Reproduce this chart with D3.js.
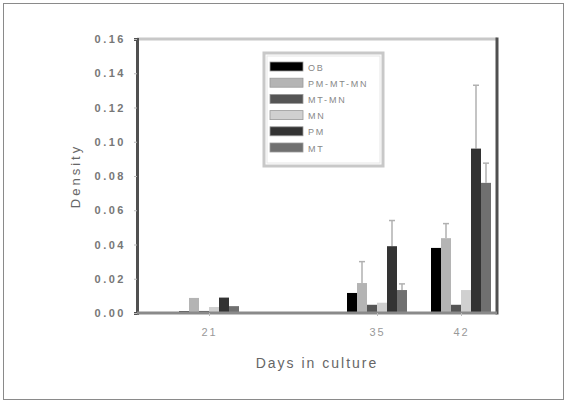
<!DOCTYPE html>
<meta charset="utf-8">
<script src="https://d3js.org/d3.v7.min.js"></script>
<style>
  body { margin: 0; background: #fff; }
  text { font-family: "Liberation Sans", Arial, sans-serif; }
</style>
<div id="chart"></div>
<script>
// data
var days = [21, 35, 42];
var seriesNames = ["OB", "PM-MT-MN", "MT-MN", "MN", "PM", "MT"];
var seriesColors = ["#000000", "#b4b4b4", "#555555", "#d0d0d0", "#333333", "#707070"];
var valOB      = [0.001, 0.0117, 0.038];
var valPMMTMN  = [0.0088, 0.0175, 0.0437];
var valMTMN    = [0.0012, 0.0048, 0.0048];
var valMN      = [0.0035, 0.006, 0.0134];
var valPM      = [0.009, 0.039, 0.096];
var valMT      = [0.004, 0.0134, 0.076];
var errOB      = [0, 0, 0];
var errPMMTMN  = [0, 0.0125, 0.0085];
var errMTMN    = [0, 0, 0];
var errMN      = [0, 0, 0];
var errPM      = [0, 0.015, 0.037];
var errMT      = [0, 0.0036, 0.0115];
var yTicks = [0, 0.02, 0.04, 0.06, 0.08, 0.10, 0.12, 0.14, 0.16];

var values = [valOB, valPMMTMN, valMTMN, valMN, valPM, valMT];
var errors = [errOB, errPMMTMN, errMTMN, errMN, errPM, errMT];

var W = 567, H = 403;
var svg = d3.select("#chart").append("svg")
    .attr("width", W).attr("height", H);

// outer frame
svg.append("rect")
    .attr("x", 3.5).attr("y", 3.5)
    .attr("width", W - 7).attr("height", H - 7)
    .attr("fill", "none").attr("stroke", "#8a8a8a").attr("stroke-width", 1);

var plotLeft = 137, plotRight = 497, plotTop = 39, plotBottom = 313;

var x = d3.scaleLinear().domain([15, 45]).range([plotLeft, plotRight]);
var y = d3.scaleLinear().domain([0, 0.16]).range([plotBottom, plotTop]);
var barW = 10;

// build flat list of bars
var bars = [];
seriesNames.forEach(function(name, s) {
  days.forEach(function(day, i) {
    bars.push({ s: s, day: day, v: values[s][i], e: errors[s][i] });
  });
});
function barX(d) { return x(d.day) - 3 * barW + d.s * barW; }

// error bars (only upward)
var eb = svg.append("g").selectAll("g")
  .data(bars.filter(function(d) { return d.e > 0; }))
  .enter().append("g");
eb.append("line")
    .attr("x1", function(d) { return barX(d) + barW / 2; })
    .attr("x2", function(d) { return barX(d) + barW / 2; })
    .attr("y1", function(d) { return y(d.v); })
    .attr("y2", function(d) { return y(d.v + d.e); })
    .attr("stroke", "#c4c4c4").attr("stroke-width", 2);
eb.append("line")
    .attr("x1", function(d) { return barX(d) + barW / 2 - 3; })
    .attr("x2", function(d) { return barX(d) + barW / 2 + 3; })
    .attr("y1", function(d) { return y(d.v + d.e); })
    .attr("y2", function(d) { return y(d.v + d.e); })
    .attr("stroke", "#b0b0b0").attr("stroke-width", 1.5);

svg.append("g").selectAll("rect")
  .data(bars)
  .enter().append("rect")
    .attr("x", barX)
    .attr("y", function(d) { return y(d.v); })
    .attr("width", barW)
    .attr("height", function(d) { return y(0) - y(d.v); })
    .attr("fill", function(d) { return seriesColors[d.s]; });

// frame lines
svg.append("line").attr("x1", plotLeft).attr("x2", plotRight).attr("y1", plotTop).attr("y2", plotTop)
    .attr("stroke", "#c8c8c8").attr("stroke-width", 3);
svg.append("line").attr("x1", plotRight).attr("x2", plotRight).attr("y1", plotTop - 1.5).attr("y2", plotBottom + 1.5)
    .attr("stroke", "#505050").attr("stroke-width", 3);

// y axis
var yAxis = svg.append("g")
    .attr("transform", "translate(" + plotLeft + ",0)")
    .call(d3.axisLeft(y).tickValues(yTicks).tickFormat(d3.format(".2f")).tickSize(3).tickPadding(8));
yAxis.select(".domain").attr("stroke", "#505050").attr("stroke-width", 3);
yAxis.selectAll(".tick line").attr("stroke", "#bbb");
yAxis.selectAll("text")
    .attr("fill", "#777").style("font-size", "11px").style("font-weight", "bold")
    .style("letter-spacing", "2.5px");

// x axis
var xAxis = svg.append("g")
    .attr("transform", "translate(0," + plotBottom + ")")
    .call(d3.axisBottom(x).tickValues(days).tickFormat(d3.format("d")).tickSize(3).tickPadding(12));
xAxis.select(".domain").attr("stroke", "#8a8a8a").attr("stroke-width", 3).attr("d", "M" + plotLeft + ",0H" + plotRight);
xAxis.selectAll(".tick line").attr("stroke", "#bbb");
xAxis.selectAll("text")
    .attr("fill", "#999").style("font-size", "11px").style("letter-spacing", "2px");

// axis titles
svg.append("text")
    .attr("x", 317).attr("y", 368)
    .attr("text-anchor", "middle")
    .attr("fill", "#666").style("font-size", "14px").style("letter-spacing", "2px")
    .text("Days in culture");
svg.append("text")
    .attr("transform", "translate(80,176) rotate(-90)")
    .attr("text-anchor", "middle")
    .attr("fill", "#666").style("font-size", "13px").style("letter-spacing", "3px")
    .text("Density");

// legend
var lg = svg.append("g").attr("transform", "translate(263,52)");
lg.append("rect").attr("x", 1).attr("y", 1).attr("width", 119).attr("height", 113)
    .attr("fill", "#fff").attr("stroke", "#c8c8c8").attr("stroke-width", 3);
lg.append("rect").attr("x", 4).attr("y", 4).attr("width", 113).attr("height", 107)
    .attr("fill", "none").attr("stroke", "#e6e6e6").attr("stroke-width", 1);
var item = lg.selectAll(".item")
  .data(seriesNames)
  .enter().append("g")
    .attr("transform", function(d, i) { return "translate(7," + (10 + i * 16.2) + ")"; });
item.append("rect")
    .attr("width", 33).attr("height", 9)
    .attr("fill", function(d, i) { return seriesColors[i]; })
    .attr("stroke", "#999").attr("stroke-width", 0.8);
item.append("text")
    .attr("x", 38).attr("y", 8.5)
    .attr("fill", "#888").style("font-size", "9px").style("letter-spacing", "1.8px")
    .text(function(d) { return d; });
</script>
